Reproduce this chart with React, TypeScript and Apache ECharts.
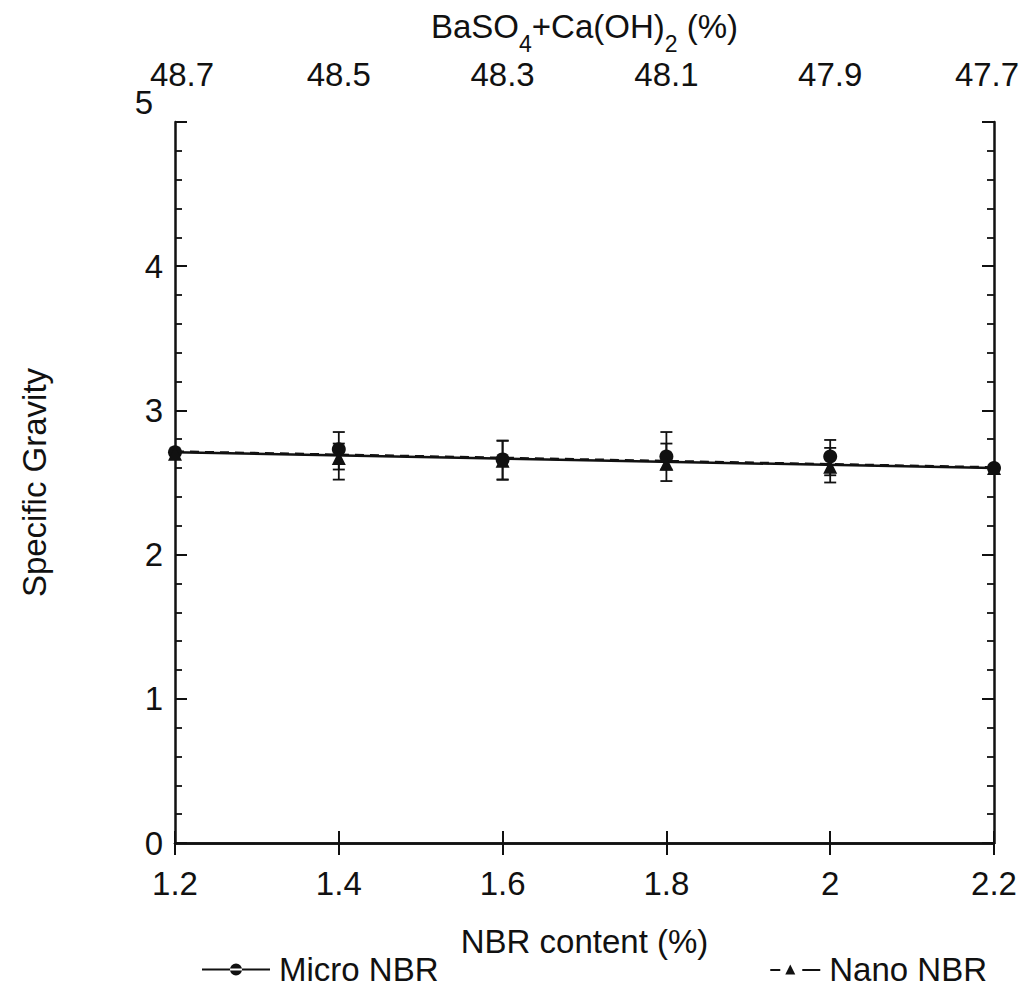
import React, { useEffect, useRef } from "react";
import * as echarts from "echarts";

const xValues = [1.2, 1.4, 1.6, 1.8, 2.0, 2.2];
const bottomTickLabels = ["1.2", "1.4", "1.6", "1.8", "2", "2.2"];
const topTickLabels = ["48.7", "48.5", "48.3", "48.1", "47.9", "47.7"];

const microSG = [2.71, 2.73, 2.66, 2.68, 2.68, 2.6];
const nanoSG = [2.7, 2.67, 2.65, 2.63, 2.61, 2.6];

const microErrLow = [null, 2.52, 2.52, 2.51, 2.5, null];
const microErrHigh = [null, 2.85, 2.79, 2.85, 2.795, null];
const nanoErrLow = [null, 2.59, 2.52, 2.59, 2.55, null];
const nanoErrHigh = [null, 2.77, 2.79, 2.77, 2.74, null];

const fitX = [1.2, 2.2];
const microFit = [2.71, 2.6];
const nanoFit = [2.715, 2.605];

const FONT = "'Liberation Sans', Arial, Helvetica, sans-serif";
const FS = 33;

const idx = (v: number) => Math.round((v - 1.2) / 0.2);

function errRender(params: any, api: any) {
  const x = api.value(0);
  const lo = api.value(1);
  const hi = api.value(2);
  const p1 = api.coord([x, lo]);
  const p2 = api.coord([x, hi]);
  const cap = 6;
  const style = { stroke: "#111", lineWidth: 1.8 };
  return {
    type: "group",
    children: [
      { type: "line", shape: { x1: p1[0], y1: p1[1], x2: p2[0], y2: p2[1] }, style },
      { type: "line", shape: { x1: p1[0] - cap, y1: p1[1], x2: p1[0] + cap, y2: p1[1] }, style },
      { type: "line", shape: { x1: p2[0] - cap, y1: p2[1], x2: p2[0] + cap, y2: p2[1] }, style },
    ],
  };
}

export default function App() {
  const ref = useRef<HTMLDivElement>(null);
  useEffect(() => {
    if (!ref.current) return;
    const chart = echarts.init(ref.current, null, { renderer: "svg" });
    const axisLine = { show: true, lineStyle: { color: "#111", width: 2.5 } };
    const tick = { show: true, inside: true, length: 12, lineStyle: { color: "#111", width: 2 } };
    const minor = { show: true, splitNumber: 5, length: 7, lineStyle: { color: "#111", width: 1.8 } };
    const errData = (lo: any[], hi: any[]) =>
      xValues
        .map((x, i) => (lo[i] == null ? null : [x, lo[i], hi[i]]))
        .filter((d) => d !== null);
    const topLabelStyle = { fontSize: FS, fontFamily: FONT, color: "#111" };

    chart.setOption({
      animation: false,
      backgroundColor: "#fff",
      textStyle: { fontFamily: FONT },
      grid: { left: 175, right: 30, top: 122, bottom: 146, outerBoundsMode: "none", containLabel: false },
      legend: [
        {
          left: 197,
          top: 948,
          itemWidth: 68,
          itemHeight: 12,
          itemGap: 4,
          textStyle: { fontSize: FS, color: "#111", fontFamily: FONT, padding: [0, 0, 0, 4] },
          data: [
            {
              name: "Micro NBR",
              icon: "path://M0,6.5 L68,6.5 L68,8.5 L0,8.5 Z M28,7.5 A6,6 0 1,0 40,7.5 A6,6 0 1,0 28,7.5 Z",
            },
          ],
        },
        {
          right: 32,
          top: 948,
          itemWidth: 50,
          itemHeight: 11,
          itemGap: 4,
          textStyle: { fontSize: FS, color: "#111", fontFamily: FONT, padding: [0, 0, 0, 4] },
          data: [
            {
              name: "Nano NBR",
              icon: "path://M0,6.5 L10,6.5 L10,8.5 L0,8.5 Z M15,12 L20,2 L25,12 Z M32,6.5 L50,6.5 L50,8.5 L32,8.5 Z",
            },
          ],
        },
      ],
      xAxis: [
        {
          type: "value",
          position: "bottom",
          min: 1.2,
          max: 2.2,
          interval: 0.2,
          axisLine,
          axisTick: tick,
          splitLine: { show: false },
          axisLabel: {
            margin: 24,
            fontSize: FS,
            color: "#111",
            fontFamily: FONT,
            formatter: (v: number) => bottomTickLabels[idx(v)] ?? "",
          },
          name: "NBR content (%)",
          nameLocation: "middle",
          nameGap: 82,
          nameTextStyle: { fontSize: FS, color: "#111", fontFamily: FONT },
        },
        {
          type: "value",
          position: "top",
          min: 1.2,
          max: 2.2,
          interval: 0.2,
          axisLine,
          axisTick: tick,
          splitLine: { show: false },
          axisLabel: {
            margin: 31,
            fontSize: FS,
            color: "#111",
            fontFamily: FONT,
            formatter: (v: number) => {
              const i = idx(v);
              const t = topTickLabels[i] ?? "";
              if (i === 0) return "{first|" + t + "}";
              if (i === topTickLabels.length - 1) return "{last|" + t + "}";
              return t;
            },
            rich: {
              first: { ...topLabelStyle, padding: [0, 0, 0, 14] },
              last: { ...topLabelStyle, padding: [0, 14, 0, 0] },
            },
          },
          name: "{a|BaSO}{s|4}{a|+Ca(OH)}{s|2}{a| (%)}",
          nameLocation: "middle",
          nameGap: 79,
          nameMoveOverlap: false,
          nameTextStyle: {
            color: "#111",
            rich: {
              a: { fontSize: FS, fontFamily: FONT, color: "#111", lineHeight: 34 },
              s: { fontSize: 23, fontFamily: FONT, color: "#111", lineHeight: 34, padding: [36, 0, 0, 0] },
            },
          },
        },
      ],
      yAxis: [
        {
          type: "value",
          position: "left",
          min: 0,
          max: 5,
          interval: 1,
          axisLine,
          axisTick: tick,
          minorTick: minor,
          splitLine: { show: false },
          minorSplitLine: { show: false },
          axisLabel: {
            margin: 12,
            fontSize: FS,
            color: "#111",
            fontFamily: FONT,
            formatter: (v: number) => (v === 5 ? "{t|5}" : String(v)),
            rich: { t: { fontSize: FS, fontFamily: FONT, color: "#111", padding: [0, 10, 40, 0] } },
          },
          name: "Specific Gravity",
          nameLocation: "middle",
          nameGap: 124,
          nameTextStyle: { fontSize: FS, color: "#111", fontFamily: FONT },
        },
        {
          type: "value",
          position: "right",
          min: 0,
          max: 5,
          interval: 1,
          axisLine,
          axisTick: tick,
          minorTick: minor,
          splitLine: { show: false },
          axisLabel: { show: false },
        },
      ],
      series: [
        {
          name: "Micro NBR",
          type: "line",
          xAxisIndex: 0,
          yAxisIndex: 0,
          data: fitX.map((x, i) => [x, microFit[i]]),
          symbol: "none",
          lineStyle: { color: "#111", width: 2.5, type: "solid" },
          itemStyle: { color: "#111" },
          silent: true,
        },
        {
          name: "Nano NBR",
          type: "line",
          xAxisIndex: 0,
          yAxisIndex: 0,
          data: fitX.map((x, i) => [x, nanoFit[i]]),
          symbol: "none",
          lineStyle: { color: "#111", width: 2.4, type: [9, 6] },
          itemStyle: { color: "#111" },
          silent: true,
        },
        {
          name: "Micro NBR err",
          type: "custom",
          xAxisIndex: 0,
          yAxisIndex: 0,
          renderItem: errRender,
          data: errData(microErrLow, microErrHigh),
          z: 3,
        },
        {
          name: "Nano NBR err",
          type: "custom",
          xAxisIndex: 0,
          yAxisIndex: 0,
          renderItem: errRender,
          data: errData(nanoErrLow, nanoErrHigh),
          z: 3,
        },
        {
          name: "Micro NBR",
          type: "scatter",
          xAxisIndex: 0,
          yAxisIndex: 0,
          data: xValues.map((x, i) => [x, microSG[i]]),
          symbol: "circle",
          symbolSize: 14,
          itemStyle: { color: "#111", opacity: 1 },
          z: 4,
        },
        {
          name: "Nano NBR",
          type: "scatter",
          xAxisIndex: 0,
          yAxisIndex: 0,
          data: xValues.map((x, i) => [x, nanoSG[i]]),
          symbol: "triangle",
          symbolSize: 14,
          itemStyle: { color: "#111", opacity: 1 },
          z: 4,
        },
      ],
    });
    return () => chart.dispose();
  }, []);
  return (
    <div
      ref={ref}
      style={{ position: "fixed", left: 0, top: 0, width: 1024, height: 989, background: "#fff" }}
    />
  );
}
